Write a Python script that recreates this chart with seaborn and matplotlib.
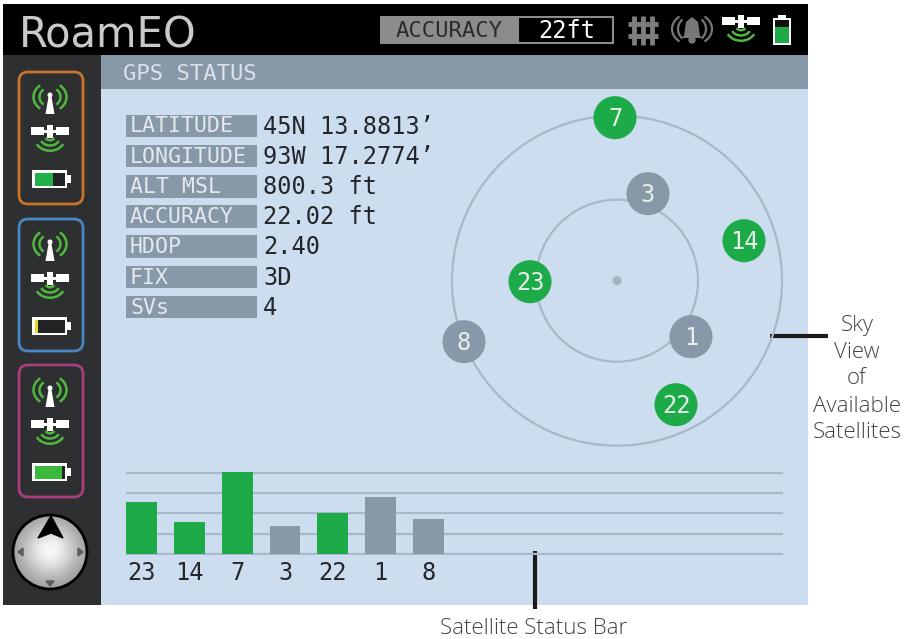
import matplotlib
matplotlib.use("Agg")
import matplotlib.pyplot as plt
from matplotlib.patches import Rectangle, FancyBboxPatch, Circle, Arc, Polygon
import numpy as np
import pandas as pd
import seaborn as sns

W, H = 911, 639
GREEN = "#1dab4a"
LIME = "#4fb83f"
SLATE = "#8798a8"
PANEL = "#cbddee"
RING = "#a9b8c8"
INK = "#23262a"
MONO = "DejaVu Sans Mono"

# bar chart
bar_ids = ["23", "14", "7", "3", "22", "1", "8"]
bar_strength = [64, 39, 101, 34, 51, 70, 43]
bar_status = ["used", "used", "used", "idle", "used", "idle", "idle"]
grid_levels = [0, 25, 50, 75, 100]

# sky view, offsets from the centre dot
sky_ids = ["7", "3", "14", "23", "8", "1", "22"]
sky_x = [-2, 31, 127, -87, -153, 74, 59]
sky_y = [163, 87, 40, -1, -61, -56, -124]
sky_status = ["used", "idle", "used", "used", "idle", "idle", "used"]
sky_rings = [81, 165]

field_names = ["LATITUDE", "LONGITUDE", "ALT MSL", "ACCURACY", "HDOP", "FIX", "SVs"]
field_values = ["45N 13.8813’", "93W 17.2774’", "800.3 ft", "22.02 ft", "2.40", "3D", "4"]
field_rows = [125.5, 155.7, 186, 216, 246, 276.7, 306.7]

sidebar_tops = [72, 219, 365]
sidebar_colors = ["#c8742a", "#4a86c0", "#a83e7e"]
sidebar_charge = [0.62, 0.12, 0.92]
sidebar_fill = ["#22b04a", "#e8d820", "#3cb83c"]

palette = {"used": GREEN, "idle": SLATE}

sns.set_theme(style="white")
plt.rcParams["font.family"] = ["Open Sans", "DejaVu Sans"]


def px_axes(fig, left, top, right, bottom):
    ax = fig.add_axes([left / W, 1 - bottom / H, (right - left) / W, (bottom - top) / H])
    ax.patch.set_alpha(0)
    return ax


def box(ax, x0, y0, x1, y1, color, **kw):
    ax.add_patch(Rectangle((x0, y0), x1 - x0, y1 - y0, facecolor=color, edgecolor="none", **kw))


def satellite(ax, cx, cy, body="white", wave=LIME):
    box(ax, cx - 19, cy - 4, cx - 6, cy + 4, body)
    box(ax, cx + 6, cy - 4, cx + 19, cy + 4, body)
    box(ax, cx - 6, cy - 1.5, cx + 6, cy + 1.5, body)
    box(ax, cx - 3, cy - 6.5, cx + 3, cy + 6.5, body)
    for d, dy in [(10, 5), (20, 6), (30, 7)]:
        ax.add_patch(Arc((cx, cy + dy), d, d * 0.85, theta1=25, theta2=155, color=wave, lw=1.8))


def tower(ax, cx, cy):
    ax.add_patch(Polygon([[cx - 1.2, cy - 7], [cx + 1.2, cy - 7], [cx + 4.5, cy + 12], [cx - 4.5, cy + 12]],
                         facecolor="white", edgecolor="none"))
    ax.add_patch(Circle((cx, cy - 7), 1.8, color="white"))
    for w, h in [(21, 19), (33, 29)]:
        for t1, t2 in [(130, 230), (-50, 50)]:
            ax.add_patch(Arc((cx, cy - 5), w, h, theta1=t1, theta2=t2, color=LIME, lw=1.8))


def battery(ax, x0, y0, charge, fill):
    box(ax, x0, y0, x0 + 35, y0 + 18, "white")
    box(ax, x0 + 35, y0 + 5, x0 + 39, y0 + 13, "white")
    box(ax, x0 + 2.5, y0 + 2.5, x0 + 32.5, y0 + 15.5, "#222324")
    box(ax, x0 + 2.5, y0 + 2.5, x0 + 2.5 + 30 * charge, y0 + 15.5, fill)


def draw_frame(fig):
    ax = fig.add_axes([0, 0, 1, 1])
    ax.set_xlim(0, W)
    ax.set_ylim(H, 0)
    ax.axis("off")

    box(ax, 3, 4, 808, 55, "black")
    box(ax, 3, 55, 101, 605, "#2e2f30")
    box(ax, 101, 55, 808, 89, SLATE)
    box(ax, 101, 89, 808, 605, PANEL)

    ax.text(19, 31, "RoamEO", color="#c9c9c9", fontsize=30, family="DejaVu Sans", va="center_baseline")

    # accuracy readout
    box(ax, 380, 16, 518, 44, "#8c8c8c")
    ax.add_patch(Rectangle((518, 17), 95, 26, facecolor="black", edgecolor="#8c8c8c", lw=1.5))
    ax.text(449, 31, "ACCURACY", color="#2b2b2b", fontsize=16, family=MONO, ha="center", va="center")
    ax.text(567, 31, "22ft", color="white", fontsize=17, family=MONO, ha="center", va="center")

    # header icons
    for x in [634, 643, 652]:
        ax.plot([x, x], [16, 45], color="#7d7d7d", lw=3.5, solid_capstyle="butt")
    for y in [24, 36]:
        ax.plot([628, 658], [y, y], color="#7d7d7d", lw=3.5, solid_capstyle="butt")
    ax.add_patch(Polygon([[692, 17], [698, 22], [700, 36], [703, 38], [681, 38], [684, 36], [686, 22]],
                         facecolor="#777777", edgecolor="none"))
    ax.add_patch(Circle((692, 40), 3, color="#777777"))
    for w, h in [(28, 26), (40, 32)]:
        for t1, t2 in [(135, 225), (-45, 45)]:
            ax.add_patch(Arc((692, 29), w, h, theta1=t1, theta2=t2, color="#777777", lw=1.6))
    satellite(ax, 741, 21)
    box(ax, 773, 18, 791, 45, "white")
    box(ax, 778, 15, 786, 18, "white")
    box(ax, 775, 20, 789, 43, "#111111")
    box(ax, 775, 27, 789, 43, "#1faa45")

    ax.text(123, 74, "GPS STATUS", color="#dbe2e8", fontsize=16, family=MONO, va="center")

    for name, value, y in zip(field_names, field_values, field_rows):
        box(ax, 126, y - 11, 257, y + 11.5, SLATE)
        ax.text(130, y + 1, name, color="#e4e9ee", fontsize=15.5, family=MONO, va="center")
        ax.text(263, y + 1, value, color=INK, fontsize=17, family=MONO, va="center")

    # sidebar status cards
    for top, color, charge, fill in zip(sidebar_tops, sidebar_colors, sidebar_charge, sidebar_fill):
        ax.add_patch(FancyBboxPatch((19 + 8, top + 8), 64 - 16, 132 - 16, boxstyle="round,pad=8,rounding_size=9",
                                    facecolor="none", edgecolor=color, lw=2))
        tower(ax, 50, top + 30)
        satellite(ax, 50, top + 59)
        battery(ax, 32, top + 98, charge, fill)

    # compass
    yy, xx = np.mgrid[-1:1:150j, -1:1:150j]
    shade = 0.55 + 0.42 * np.exp(-((xx) ** 2 + (yy + 0.05) ** 2) * 1.6)
    img = ax.imshow(shade, cmap="gray", vmin=0, vmax=1, extent=(13, 87, 589, 515), zorder=2, aspect="auto")
    ring = Circle((50, 552), 37, facecolor="none", edgecolor="black", lw=2, zorder=3)
    ax.add_patch(ring)
    img.set_clip_path(ring)
    ax.set_xlim(0, W)
    ax.set_ylim(H, 0)
    ax.add_patch(Polygon([[51, 516], [63, 538], [51, 533], [38, 538]], color="black", zorder=4))
    for tri in ([[50, 586], [46, 581], [54, 581]], [[18, 552], [23, 548], [23, 556]], [[83, 552], [78, 548], [78, 556]]):
        ax.add_patch(Polygon(tri, color="#5c5c5c", zorder=4))

    # callouts
    ax.plot([770, 828], [336, 336], color="#1a1a1a", lw=3, solid_capstyle="butt", zorder=6)
    ax.plot([535, 535], [551, 609], color="#1a1a1a", lw=3, solid_capstyle="butt", zorder=6)
    for txt, y in zip(["Sky", "View", "of", "Available", "Satellites"], [325, 352, 379, 406, 433]):
        ax.text(857, y, txt, color="#444444", fontsize=16, weight="light", ha="center", va="center")
    ax.text(534, 628, "Satellite Status Bar", color="#444444", fontsize=16, weight="light", ha="center", va="center")


def draw_bars(fig):
    ax = px_axes(fig, 126, 471, 783, 555)
    df = pd.DataFrame({"sat": bar_ids, "strength": bar_strength, "status": bar_status})
    sns.barplot(data=df, x="sat", y="strength", hue="status", palette=palette, dodge=False,
                width=0.647, saturation=1, legend=False, linewidth=0, ax=ax)
    ax.set_xlim(-0.324, 13.41)
    ax.set_ylim(-1, 102)
    ax.set_yticks(grid_levels)
    ax.set_yticklabels([])
    ax.grid(axis="y", color=RING, lw=1.6)
    ax.set_axisbelow(True)
    ax.set_xlabel("")
    ax.set_ylabel("")
    ax.tick_params(axis="x", length=0, pad=4, labelsize=17, labelcolor=INK)
    for label in ax.get_xticklabels():
        label.set_family(MONO)
    sns.despine(ax=ax, left=True, bottom=True)


def draw_sky(fig):
    cx, cy, half = 617, 280.7, 190
    ax = px_axes(fig, cx - half, cy - half, cx + half, cy + half)
    ax.set_xlim(-half, half)
    ax.set_ylim(-half, half)
    for r in sky_rings:
        ax.add_patch(Circle((0, 0), r, facecolor="none", edgecolor=RING, lw=1.6))
    ax.add_patch(Circle((0, 0), 4.5, color="#a3b3c3", lw=0))

    df = pd.DataFrame({"x": sky_x, "y": sky_y, "status": sky_status})
    sns.scatterplot(data=df, x="x", y="y", hue="status", palette=palette, s=961, linewidth=0,
                    legend=False, zorder=3, clip_on=False, ax=ax)
    for sid, x, y in zip(sky_ids, sky_x, sky_y):
        ax.text(x, y - 1, sid, color="#e8efe9", fontsize=17, family=MONO, ha="center", va="center", zorder=4)
    ax.axis("off")


fig = plt.figure(figsize=(W / 100, H / 100), dpi=100, facecolor="white")
draw_frame(fig)
draw_bars(fig)
draw_sky(fig)
fig.savefig("out.png", dpi=100)
